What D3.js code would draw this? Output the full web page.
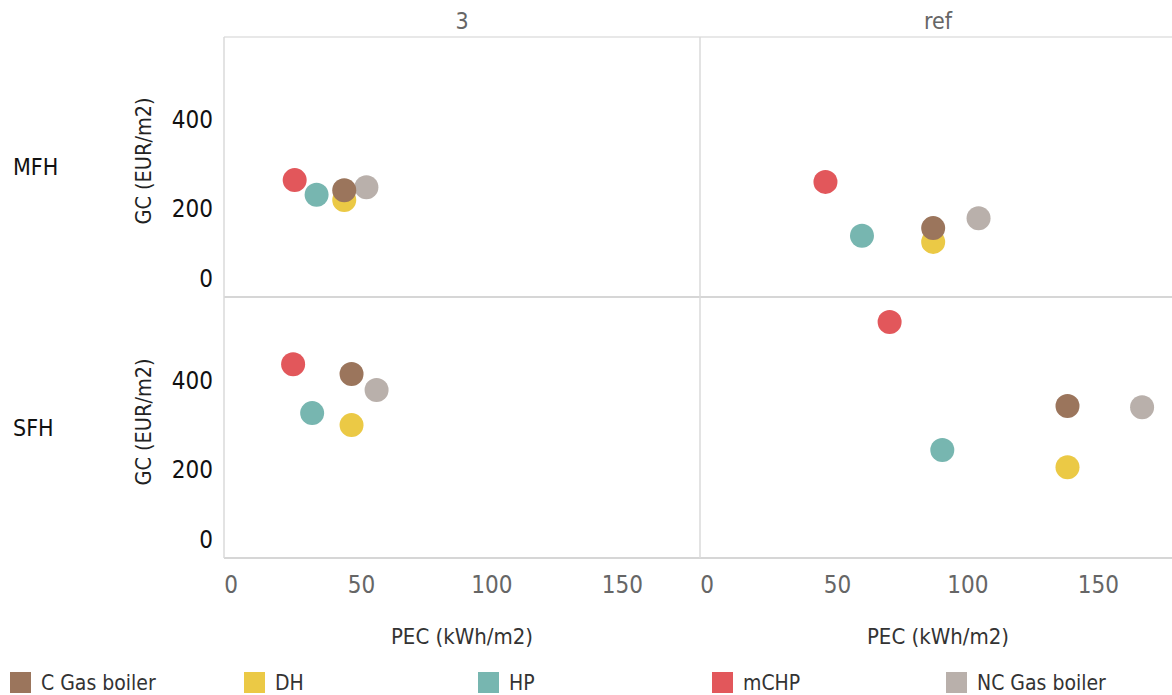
<!DOCTYPE html>
<html>
<head>
<meta charset="utf-8">
<script src="https://cdn.jsdelivr.net/npm/d3@7"></script>
<style>
  body { margin: 0; background: #fff; }
  text { font-family: "DejaVu Sans Condensed", "Lato", sans-serif; }
</style>
</head>
<body>
<div id="chart"></div>
<script>
var width = 1172;
var height = 695;

// categories
var techs = ["C Gas boiler", "DH", "HP", "mCHP", "NC Gas boiler"];
var techColors = ["#9b755c", "#ebc945", "#77b6b0", "#e2575b", "#b9b0ab"];
var scenarios = ["3", "ref"];
var buildings = ["MFH", "SFH"];

// PEC (kWh/m2) and GC (EUR/m2), same order as techs
var pecMFH3   = [43.6, 43.6, 33.0, 24.6, 52.1];
var gcMFH3    = [240, 218, 230, 263, 247];
var pecMFHref = [86.9, 86.9, 59.6, 45.6, 104.3];
var gcMFHref  = [155, 124, 138, 259, 177];
var pecSFH3   = [46.4, 46.4, 31.3, 24.0, 56.0];
var gcSFH3    = [414, 299, 326, 436, 378];
var pecSFHref = [138.4, 138.4, 90.4, 70.2, 167.0];
var gcSFHref  = [342, 204, 243, 531, 339];

var xTicks = [0, 50, 100, 150];
var yTicks = [0, 200, 400];

// panel layout
var panelW = 476, panelH = 260;
var colLeft = [224, 700];
var rowTop = [37, 298];

var panels = [
  { b: 0, s: 0, pec: pecMFH3,   gc: gcMFH3 },
  { b: 0, s: 1, pec: pecMFHref, gc: gcMFHref },
  { b: 1, s: 0, pec: pecSFH3,   gc: gcSFH3 },
  { b: 1, s: 1, pec: pecSFHref, gc: gcSFHref }
];

var x = d3.scaleLinear().domain([-2.5, 180]).range([0, panelW]);
var y = d3.scaleLinear().domain([0, 585]).range([panelH, 0]);

var svg = d3.select("#chart")
  .append("svg")
  .attr("width", width)
  .attr("height", height);

// frame lines
svg.append("line")
  .attr("x1", 224).attr("x2", width).attr("y1", 37).attr("y2", 37)
  .style("stroke", "#e1e1e1").style("stroke-width", 1.5);
rowTop.forEach(function(t) {
  svg.append("line")
    .attr("x1", 224).attr("x2", width).attr("y1", t + panelH).attr("y2", t + panelH)
    .style("stroke", "#c8c8c8").style("stroke-width", 1.5);
});
colLeft.forEach(function(l) {
  svg.append("line")
    .attr("x1", l).attr("x2", l).attr("y1", 37).attr("y2", rowTop[1] + panelH)
    .style("stroke", "#dadada").style("stroke-width", 1.5);
});

// column headers
scenarios.forEach(function(s, i) {
  svg.append("text")
    .attr("x", colLeft[i] + panelW / 2)
    .attr("y", 21)
    .attr("dy", "0.35em")
    .attr("text-anchor", "middle")
    .style("font-size", "23px")
    .style("fill", "#666")
    .text(s);
});

// row labels, y axis titles and y axes
buildings.forEach(function(b, i) {
  var cy = rowTop[i] + panelH / 2;
  svg.append("text")
    .attr("x", 13)
    .attr("y", cy)
    .attr("dy", "0.35em")
    .style("font-size", "23px")
    .style("fill", "#111")
    .text(b);

  svg.append("text")
    .attr("transform", "translate(143," + (cy - 6) + ") rotate(-90)")
    .attr("dy", "0.35em")
    .attr("text-anchor", "middle")
    .style("font-size", "21.5px")
    .style("fill", "#222")
    .text("GC (EUR/m2)");

  var g = svg.append("g")
    .attr("transform", "translate(" + (colLeft[0] - 11) + "," + rowTop[i] + ")")
    .call(d3.axisLeft(y).tickValues(yTicks).tickSize(0).tickPadding(0));
  g.select(".domain").remove();
  g.selectAll("text")
    .style("font-family", null)
    .style("font-size", "24px")
    .style("fill", "#111")
    .attr("dy", "0.35em");
  // keep the bottom label inside the panel
  g.selectAll(".tick").filter(function(d) { return d === 0; })
    .select("text").attr("y", -19);
});

// x axes and titles
scenarios.forEach(function(s, i) {
  var g = svg.append("g")
    .attr("transform", "translate(" + colLeft[i] + "," + (rowTop[1] + panelH) + ")")
    .call(d3.axisBottom(x).tickValues(xTicks).tickSize(0).tickPadding(0));
  g.select(".domain").remove();
  g.selectAll("text")
    .style("font-family", null)
    .style("font-size", "24px")
    .style("fill", "#666")
    .attr("y", 27)
    .attr("dy", "0.35em");

  svg.append("text")
    .attr("x", colLeft[i] + panelW / 2)
    .attr("y", 636)
    .attr("dy", "0.35em")
    .attr("text-anchor", "middle")
    .style("font-size", "22px")
    .style("fill", "#333")
    .text("PEC (kWh/m2)");
});

// points: drawn in reverse legend order so C Gas boiler sits on top
var order = d3.range(techs.length).reverse();
panels.forEach(function(p) {
  var g = svg.append("g")
    .attr("transform", "translate(" + colLeft[p.s] + "," + rowTop[p.b] + ")");
  g.selectAll("circle")
    .data(order)
    .enter()
    .append("circle")
    .attr("cx", function(k) { return x(p.pec[k]); })
    .attr("cy", function(k) { return y(p.gc[k]); })
    .attr("r", 12)
    .style("fill", function(k) { return techColors[k]; });
});

// legend
var legendX = d3.scaleLinear().domain([0, 1]).range([10, 244]);
var legend = svg.selectAll(".legend")
  .data(techs)
  .enter()
  .append("g")
  .attr("class", "legend")
  .attr("transform", function(d, i) { return "translate(" + legendX(i) + ",672)"; });
legend.append("rect")
  .attr("width", 21)
  .attr("height", 21)
  .style("fill", function(d, i) { return techColors[i]; });
legend.append("text")
  .attr("x", 31)
  .attr("y", 10.5)
  .attr("dy", "0.35em")
  .style("font-size", "21px")
  .style("fill", "#333")
  .text(function(d) { return d; });
</script>
</body>
</html>
